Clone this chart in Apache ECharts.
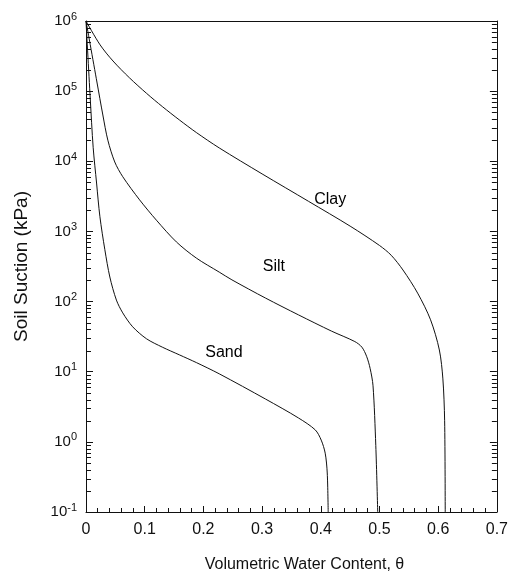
<!DOCTYPE html>
<html><head><meta charset="utf-8">
<script src="https://cdn.jsdelivr.net/npm/echarts@6/dist/echarts.min.js"></script>
<style>html,body{margin:0;padding:0;background:#fff}#c{width:511px;height:580px}</style>
</head><body><div id="c"></div>
<script>
// Volumetric water content (theta) and soil suction (kPa)
const clayTheta = [0, 0.024, 0.046, 0.074, 0.103, 0.130, 0.159, 0.188, 0.227, 0.300, 0.379, 0.450, 0.500, 0.520, 0.540, 0.565, 0.587, 0.602, 0.608, 0.611, 0.612];
const clayPsi   = [1e6, 4.57e5, 2.69e5, 1.55e5, 9.33e4, 6.03e4, 3.89e4, 2.57e4, 1.55e4, 6610, 2690, 1190, 631, 457, 282, 132, 55, 20.4, 7.9, 2.0, 0.1];

const siltTheta = [0, 0.0186, 0.0287, 0.0372, 0.049, 0.0626, 0.0913, 0.120, 0.154, 0.188, 0.227, 0.2486, 0.306, 0.362, 0.418, 0.458, 0.470, 0.478, 0.484, 0.489, 0.4937, 0.497];
const siltPsi   = [1e6, 1.35e5, 4.57e4, 2.0e4, 9770, 6030, 2820, 1445, 708, 417, 263, 204, 112, 64.6, 38, 26.9, 22.4, 16.6, 11.2, 6.3, 0.89, 0.1];

const sandTheta = [0, 0.0072, 0.0122, 0.0180, 0.0237, 0.0321, 0.0406, 0.0518, 0.0626, 0.0795, 0.103, 0.130, 0.159, 0.188, 0.227, 0.306, 0.362, 0.3906, 0.4007, 0.4075, 0.411, 0.4126];
const sandPsi   = [1e6, 7.94e4, 1.58e4, 4900, 1620, 550, 224, 105, 69, 43.7, 29.5, 22.4, 17.4, 13.5, 9.33, 4.07, 2.19, 1.48, 1.06, 0.69, 0.36, 0.1];

// Curve labels
const labelNames = ['Clay', 'Silt', 'Sand'];
const labelTheta = [0.416, 0.320, 0.235];
const labelPsi   = [2800, 311, 18.5];

// Axis settings
const xMin = 0, xMax = 0.7, xStep = 0.1;
const yMin = 0.1, yMax = 1e6;
const minorMultipliers = [2, 3, 4, 5, 6, 7, 8, 9];
const minorDecades = [-1, 0, 1, 2, 3, 4, 5];

const FONT = '"Liberation Sans", Arial, Helvetica, sans-serif';
const INK = '#111';

const zip = (a, b) => a.map((v, i) => [v, b[i]]);
const minorVals = [];
minorDecades.forEach(d => minorMultipliers.forEach(m => minorVals.push(m * Math.pow(10, d))));

const curve = (name, t, p) => ({
  name, type: 'line', data: zip(t, p), showSymbol: false, smooth: 0.3,
  lineStyle: { color: INK, width: 1 }, silent: true, z: 3
});

const chart = echarts.init(document.getElementById('c'), null, { renderer: 'canvas' });
chart.setOption({
  animation: false,
  backgroundColor: '#fff',
  grid: { left: 86, right: 11, top: 21, bottom: 68, containLabel: false },
  xAxis: [{
    type: 'value', min: xMin, max: xMax, interval: xStep,
    name: 'Volumetric Water Content, θ', nameLocation: 'middle', nameGap: 45,
    nameTextStyle: { fontFamily: FONT, fontSize: 16, color: INK, padding: [0, 0, 0, 26] },
    axisLine: { show: true, onZero: false, lineStyle: { color: INK, width: 1 } },
    axisTick: { show: true, inside: true, length: 6, lineStyle: { color: INK } },
    minorTick: { show: true, splitNumber: 5, length: 4, lineStyle: { color: INK } },
    splitLine: { show: false },
    axisLabel: { fontFamily: FONT, fontSize: 16, color: INK, margin: 10,
      formatter: v => (v === 0 ? '0' : v.toFixed(1)) }
  }, {
    type: 'value', min: xMin, max: xMax, position: 'top',
    axisLine: { show: true, onZero: false, lineStyle: { color: INK, width: 1 } },
    axisTick: { show: false }, axisLabel: { show: false }, splitLine: { show: false }
  }],
  yAxis: [{
    type: 'log', logBase: 10, min: yMin, max: yMax, splitNumber: 7,
    name: 'Soil Suction (kPa)', nameLocation: 'middle', nameGap: 55,
    nameTextStyle: { fontFamily: FONT, fontSize: 19, color: INK },
    axisLine: { show: true, onZero: false, lineStyle: { color: INK, width: 1 } },
    axisTick: { show: true, inside: true, length: 7, lineStyle: { color: INK } },
    splitLine: { show: false },
    axisLabel: {
      margin: 9, color: INK, fontFamily: FONT,
      formatter: v => '{b|10}{s|' + Math.round(Math.log10(v)) + '}',
      rich: {
        b: { fontFamily: FONT, fontSize: 15, color: INK },
        s: { fontFamily: FONT, fontSize: 11, color: INK, padding: [0, 0, 9, 0] }
      }
    }
  }, {
    type: 'log', logBase: 10, min: yMin, max: yMax, splitNumber: 7, position: 'right',
    axisLine: { show: true, onZero: false, lineStyle: { color: INK, width: 1 } },
    axisTick: { show: true, inside: true, length: 7, lineStyle: { color: INK } },
    axisLabel: { show: false }, splitLine: { show: false }
  }],
  series: [
    curve('Clay', clayTheta, clayPsi),
    curve('Silt', siltTheta, siltPsi),
    curve('Sand', sandTheta, sandPsi),
    {
      name: 'labels', type: 'scatter', silent: true, symbolSize: 0,
      itemStyle: { opacity: 1 },
      data: labelNames.map((n, i) => ({ name: n, value: [labelTheta[i], labelPsi[i]] })),
      label: { show: true, position: 'inside', formatter: p => p.name, opacity: 1,
        fontFamily: FONT, fontSize: 16, color: '#000' }
    }
  ]
});

// Log minor ticks on left and right frame edges, positioned through the chart's own scales
const tickEls = [];
minorVals.forEach(v => {
  const pl = chart.convertToPixel({ xAxisIndex: 0, yAxisIndex: 0 }, [xMin, v]);
  const pr = chart.convertToPixel({ xAxisIndex: 0, yAxisIndex: 0 }, [xMax, v]);
  const yl = Math.round(pl[1]) + 0.5, yr = Math.round(pr[1]) + 0.5;
  tickEls.push({ type: 'line', silent: true, z: 10,
    shape: { x1: pl[0], y1: yl, x2: pl[0] + 5, y2: yl }, style: { stroke: INK, lineWidth: 1 } });
  tickEls.push({ type: 'line', silent: true, z: 10,
    shape: { x1: pr[0], y1: yr, x2: pr[0] - 5, y2: yr }, style: { stroke: INK, lineWidth: 1 } });
});
chart.setOption({ graphic: { elements: tickEls } });
</script>
</body></html>
